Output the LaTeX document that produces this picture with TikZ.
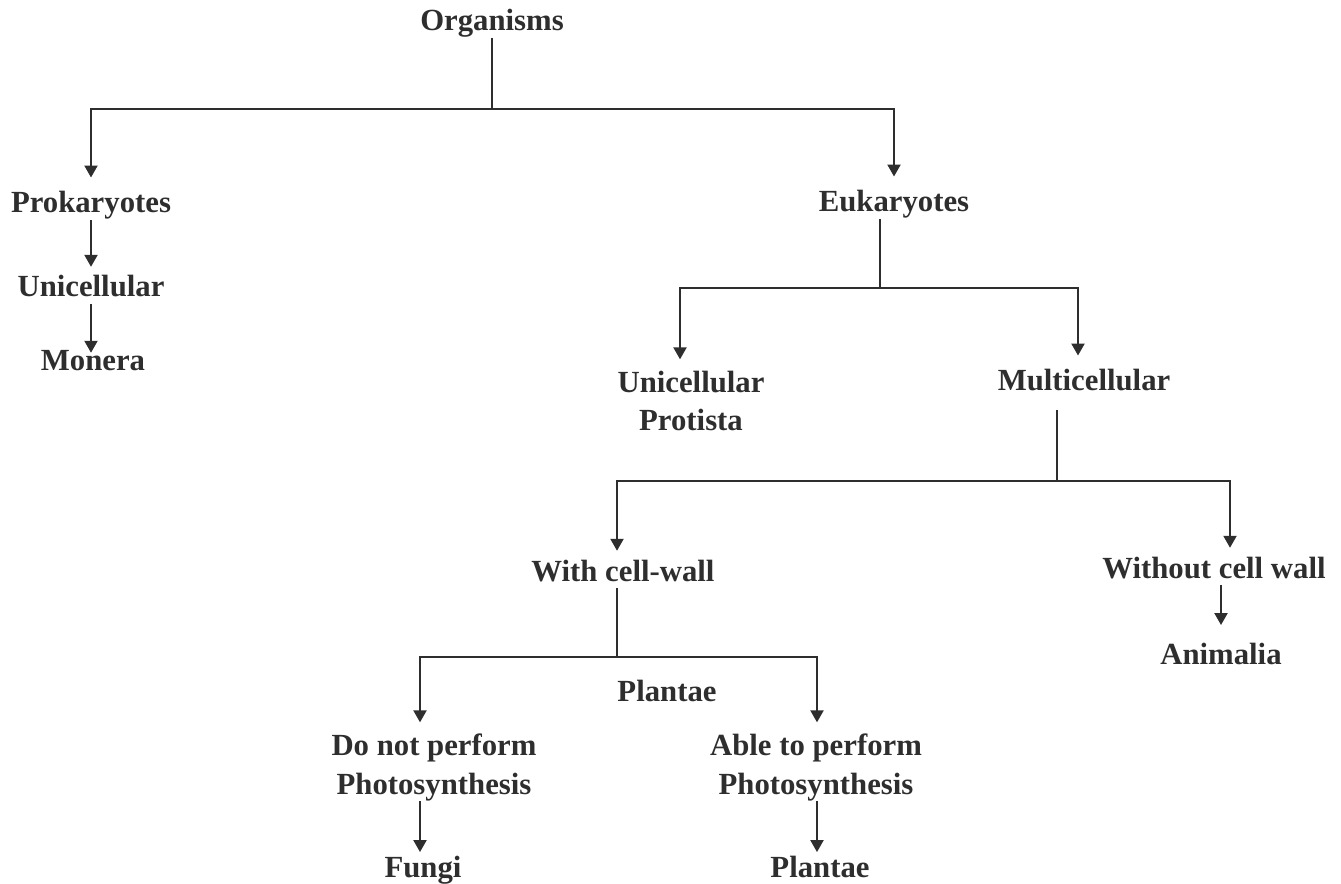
\documentclass[tikz,border=0pt]{standalone}
\usepackage{fontspec}
\setmainfont{Liberation Serif}
\usetikzlibrary{arrows.meta}
\definecolor{ink}{HTML}{2E2E2E}

\begin{document}
\begin{tikzpicture}[x=0.02cm, y=-0.02cm]
\tikzset{
  arrow/.style={
    -{Triangle[length=6.8pt, width=7.4pt]}
  },
  line/.style={
    draw=ink,
    line width=1.15pt,
  },
  taxon/.style={
    text=ink,
    font=\fontsize{17.5}{22}\selectfont\bfseries,
    text height=15pt,
    text depth=1.75pt,
    inner xsep=3pt,
    inner ysep=2pt,
    align=center,
    anchor=base
  },
  twoline/.style={
    taxon,
    text height=38.6pt
  }
}

\useasboundingbox (0,0) rectangle (1341,884);

% Top
\node (organisms) [taxon] at (492,31) {Organisms};
\coordinate (orgJ) at (492,109);

% Prokaryotes
\node (prok) [taxon] at (91,213) {Prokaryotes};
\node (uni) [taxon] at (91,297) {Unicellular};
\node (monera) [taxon] at (93,371) {Monera};

% Eukaryotes
\node (euk) [taxon] at (894,212) {Eukaryotes};
\coordinate (eukJ) at (880,288);
\coordinate (eukL) at (680,288);
\coordinate (eukR) at (1078,288);
\node (protista) [twoline] at (691,431) {Unicellular\\Protista};
\node (multi) [taxon] at (1084,391) {Multicellular};

% Multicellular
\coordinate (multiJ) at (1057,481);
\coordinate (multiL) at (617,481);
\coordinate (multiR) at (1230,481);
\node (withwall) [taxon] at (623,581) {With cell-wall};
\node (without) [taxon] at (1214,578) {Without cell wall};
\node (animalia) [taxon] at (1221,664) {Animalia};

% With cell-wall
\coordinate (wallJ) at (617,657);
\coordinate (wallL) at (420,657);
\coordinate (wallR) at (817,657);
\node (plantaelbl) [taxon] at (667,701) {Plantae};
\node (nophoto) [twoline] at (434,794) {Do not perform\\Photosynthesis};
\node (photo) [twoline] at (816,794) {Able to perform\\Photosynthesis};
\node (fungi) [taxon] at (423,877) {Fungi};
\node (plantae) [taxon] at (820,877) {Plantae};

% Connectors
\draw[line] (organisms.south) -- (orgJ);
\draw[line, arrow, shorten >=3pt] (orgJ) -| (prok.north);
\draw[line, arrow, shorten >=3pt] (orgJ) -| (euk.north);
\draw[line, arrow] (prok.south) -- (uni.north);
\draw[line, arrow, shorten >=-6.8pt] (uni.south) -- (uni.south |- monera.north);

\draw[line] (euk.south -| eukJ) -- (eukJ);
\draw[line, arrow] (eukJ) -| (eukL |- protista.north);
\draw[line, arrow, shorten >=3pt] (eukJ) -| (eukR |- multi.north);

\draw[line, shorten <=7pt] (multi.south -| multiJ) -- (multiJ);
\draw[line, arrow] (multiJ) -| (multiL |- withwall.north);
\draw[line, arrow] (multiJ) -| (multiR |- without.north);
\draw[line, arrow, shorten >=5pt] (without.south -| animalia) -- (animalia.north);

\draw[line] (withwall.south -| wallJ) -- (wallJ);
\draw[line, arrow] (wallJ) -| (wallL |- nophoto.north);
\draw[line, arrow] (wallJ) -| (wallR |- photo.north);
\draw[line, arrow, shorten >=-3pt] (nophoto.south -| wallL) -- (wallL |- fungi.north);
\draw[line, arrow, shorten >=-3pt] (photo.south -| wallR) -- (wallR |- plantae.north);

\end{tikzpicture}
\end{document}
